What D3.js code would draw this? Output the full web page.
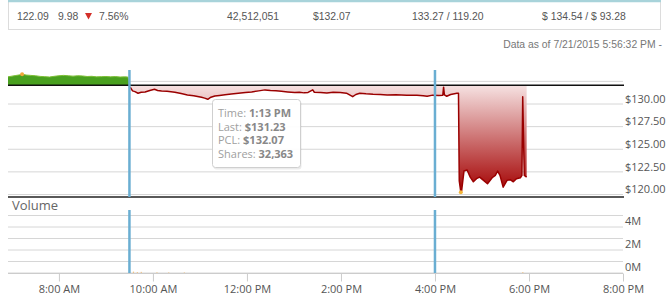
<!DOCTYPE html>
<html><head><meta charset="utf-8">
<script src="https://cdn.jsdelivr.net/npm/d3@7"></script>
<style>
html,body{margin:0;padding:0;background:#fff;}
svg{display:block;}
</style></head>
<body>
<svg id="c" width="670" height="297"></svg>
<script>
// ---------- data ----------
const quoteValues = ["122.09", "9.98", "7.56%", "42,512,051", "$132.07", "133.27 / 119.20", "$ 134.54 / $ 93.28"];
const asOfText = "Data as of 7/21/2015 5:56:32 PM -";
const prevClose = 132.07;

const preTimes = ["6:55","7:00","7:05","7:10","7:13","7:18","7:24","7:30","7:36","7:42","7:48","7:54","8:00","8:06","8:12","8:18","8:24","8:30","8:36","8:42","8:48","8:54","9:00","9:06","9:12","9:18","9:24","9:28","9:31"];
const prePrices = [133.00,133.08,133.15,133.22,133.30,133.20,133.16,133.12,133.05,133.02,132.98,133.06,133.12,133.16,133.12,133.08,133.12,133.10,133.04,133.06,133.00,133.02,133.04,133.00,133.03,132.98,133.00,132.98,132.07];

const dayTimes = ["9:31","9:34","9:37","9:41","9:45","9:50","9:56","10:02","10:06","10:11","10:18","10:28","10:36","10:44","10:52","11:02","11:06","11:10","11:14","11:19","11:25","11:32","11:40","11:49","11:58","12:06","12:15","12:23","12:30","12:37","12:44","12:52","13:01","13:07","13:13","13:18","13:24","13:26","13:34","13:42","13:50","13:59","14:07","14:15","14:19","14:24","14:32","14:41","14:50","14:59","15:10","15:24","15:37","15:45","15:50","15:57","16:05","16:10","16:11","16:12","16:15","16:20","16:28","16:30",
  "16:31","16:33","16:34","16:37","16:41","16:45","16:49","16:53","16:57","17:02","17:07","17:13","17:17","17:20","17:23","17:27","17:32","17:36","17:40","17:44","17:49","17:51","17:52","17:54","17:57"];
const dayPrices = [131.85,131.45,131.37,131.19,131.30,131.33,131.50,131.63,131.50,131.44,131.40,131.30,131.15,131.00,130.90,130.74,130.65,130.52,130.75,130.89,130.95,131.03,131.10,131.19,131.27,131.33,131.45,131.56,131.50,131.47,131.40,131.33,131.26,131.30,131.23,131.28,131.56,131.30,131.27,131.22,131.30,131.28,131.20,130.81,131.05,131.18,131.12,131.07,131.05,131.00,131.02,130.98,130.97,130.92,130.85,130.98,130.95,130.98,131.86,131.00,130.86,131.05,131.19,131.20,
  121.50,120.26,120.40,122.59,122.70,121.92,121.40,121.75,121.92,121.56,121.19,121.85,122.11,122.59,122.11,120.81,121.56,121.63,121.40,121.75,121.85,122.11,130.81,122.11,121.92];

const volTimes = ["9:35","9:40","9:45","10:05","10:20","10:40","17:52"];
const volValues = [0.12,0.08,0.10,0.06,0.05,0.05,0.08]; // millions

const highMarker = {time: "7:13", price: 133.30};
const lowMarker = {time: "16:33", price: 120.26};
const sessionLines = ["9:30", "16:00"];

const xTickTimes = ["8:00","10:00","12:00","14:00","16:00","18:00","20:00"];
const xTickLabels = ["8:00 AM","10:00 AM","12:00 PM","2:00 PM","4:00 PM","6:00 PM","8:00 PM"];
const priceTicks = [120, 122.5, 125, 127.5, 130];
const priceTickLabels = ["$120.00","$122.50","$125.00","$127.50","$130.00"];
const priceGrid = [120, 122.5, 125, 127.5, 130, 132.5];
const volTicks = [0, 2, 4];
const volTickLabels = ["0M","2M","4M"];
const volGrid = [0, 1, 2, 3, 4, 5];

const tooltipLabels = ["Time:", "Last:", "PCL:", "Shares:"];
const tooltipValues = ["1:13 PM", "$131.23", "$132.07", "32,363"];

// ---------- drawing ----------
const parse = d3.timeParse("%H:%M");
const svg = d3.select("#c");
const chartFont = "'Open Sans', sans-serif";
const tableFont = "'Liberation Sans', Arial, sans-serif";

// quote table
const tbl = svg.append("g");
tbl.append("rect").attr("x", 8.5).attr("y", -2).attr("width", 652).attr("height", 31.5)
  .attr("fill", "#fff").attr("stroke", "#dcdcdc");
tbl.append("line").attr("x1", 8).attr("x2", 661).attr("y1", 1).attr("y2", 1)
  .attr("stroke", "#a8d3da").attr("stroke-width", 2.5);
const qx = [17, 58, 99, 227, 313, 412, 542];
quoteValues.forEach((v, i) => {
  tbl.append("text").attr("x", qx[i]).attr("y", 20).text(v)
    .attr("font-family", tableFont).attr("font-size", 10.4).attr("fill", "#555");
});
tbl.append("path").attr("d", "M85,13 L92,13 L88.5,19.5 Z").attr("fill", "#d3302a");

svg.append("text").attr("x", 662).attr("y", 48).attr("text-anchor", "end").text(asOfText)
  .attr("font-family", tableFont).attr("font-size", 10.4).attr("fill", "#777");

// scales
const x = d3.scaleTime().domain([parse("6:55"), parse("20:00")]).range([8, 623]);
const y = d3.scaleLinear().domain([120, 130]).range([194.5, 104]);
const yv = d3.scaleLinear().domain([0, 5]).range([273, 215.5]);

// price gridlines
svg.append("g").selectAll("line").data(priceGrid).join("line")
  .attr("x1", 8).attr("x2", 623).attr("y1", d => y(d)).attr("y2", d => y(d))
  .attr("stroke", "#d6d6d6").attr("stroke-width", 1);

// price axis labels
const pAxis = svg.append("g").attr("transform", "translate(624,0)")
  .call(d3.axisRight(y).tickValues(priceTicks).tickSize(0).tickPadding(1)
    .tickFormat((d, i) => priceTickLabels[i]));
pAxis.select(".domain").remove();
pAxis.selectAll("text").attr("font-family", chartFont).attr("font-size", 11)
  .attr("fill", "#555").attr("dy", "-0.15em");

// gradient
const defs = svg.append("defs");
const grad = defs.append("linearGradient").attr("id", "redGrad")
  .attr("gradientUnits", "userSpaceOnUse").attr("x1", 0).attr("x2", 0)
  .attr("y1", y(prevClose)).attr("y2", y(120.2));
grad.append("stop").attr("offset", 0).attr("stop-color", "#f6e2e2");
grad.append("stop").attr("offset", 1).attr("stop-color", "#a30000");

const preData = preTimes.map((t, i) => ({t: parse(t), v: prePrices[i]}));
const dayData = dayTimes.map((t, i) => ({t: parse(t), v: dayPrices[i]}));

// green premarket area
svg.append("path").datum(preData)
  .attr("d", d3.area().x(d => x(d.t)).y0(y(prevClose)).y1(d => y(d.v)))
  .attr("fill", "#49a01f");
svg.append("path").datum(preData)
  .attr("d", d3.line().x(d => x(d.t)).y(d => y(d.v)))
  .attr("fill", "none").attr("stroke", "#7cbf34").attr("stroke-width", 1);

// red area + line
svg.append("path").datum(dayData)
  .attr("d", d3.area().x(d => x(d.t)).y0(y(prevClose)).y1(d => y(d.v)))
  .attr("fill", "url(#redGrad)");
svg.append("path").datum(dayData)
  .attr("d", d3.line().x(d => x(d.t)).y(d => y(d.v)))
  .attr("fill", "none").attr("stroke", "#9a0000").attr("stroke-width", 1.5)
  .attr("stroke-linejoin", "round");

// previous close line and pane separator
svg.append("line").attr("x1", 8).attr("x2", 624).attr("y1", y(prevClose)).attr("y2", y(prevClose))
  .attr("stroke", "#111").attr("stroke-width", 1.6);
svg.append("line").attr("x1", 8).attr("x2", 624).attr("y1", 197).attr("y2", 197)
  .attr("stroke", "#222").attr("stroke-width", 1.5);

// markers
svg.append("circle").attr("cx", x(parse(highMarker.time))).attr("cy", y(highMarker.price))
  .attr("r", 2).attr("fill", "#f0a83a");
svg.append("circle").attr("cx", x(parse(lowMarker.time))).attr("cy", y(lowMarker.price))
  .attr("r", 2).attr("fill", "#f3b53a");

// volume pane
svg.append("text").attr("x", 12).attr("y", 210).text("Volume")
  .attr("font-family", chartFont).attr("font-size", 13).attr("fill", "#666");
svg.append("g").selectAll("line").data(volGrid).join("line")
  .attr("x1", 8).attr("x2", 623).attr("y1", d => yv(d)).attr("y2", d => yv(d))
  .attr("stroke", "#d6d6d6").attr("stroke-width", 1);
const vAxis = svg.append("g").attr("transform", "translate(624,0)")
  .call(d3.axisRight(yv).tickValues(volTicks).tickSize(0).tickPadding(1)
    .tickFormat((d, i) => volTickLabels[i]));
vAxis.select(".domain").remove();
vAxis.selectAll("text").attr("font-family", chartFont).attr("font-size", 11)
  .attr("fill", "#555").attr("dy", "-0.2em");
svg.append("g").selectAll("rect").data(volTimes).join("rect")
  .attr("x", (d) => x(parse(d)) - 0.5).attr("width", 1.2)
  .attr("y", (d, i) => yv(volValues[i])).attr("height", (d, i) => yv(0) - yv(volValues[i]))
  .attr("fill", "#efc48a");

// session lines
sessionLines.forEach(t => {
  const xx = x(parse(t));
  svg.append("line").attr("x1", xx).attr("x2", xx).attr("y1", 70).attr("y2", 197)
    .attr("stroke", "#6aaed2").attr("stroke-width", 2.5);
  svg.append("line").attr("x1", xx).attr("x2", xx).attr("y1", 210).attr("y2", 273)
    .attr("stroke", "#6aaed2").attr("stroke-width", 2.5);
});

// x axis
const xAxis = svg.append("g").attr("transform", "translate(0,273.5)")
  .call(d3.axisBottom(x).tickValues(xTickTimes.map(parse)).tickSize(8).tickPadding(4)
    .tickFormat((d, i) => xTickLabels[i]));
xAxis.select(".domain").attr("stroke", "#ccc").attr("d", "M8,0H623");
xAxis.selectAll(".tick line").attr("stroke", "#ccc");
xAxis.selectAll("text").attr("font-family", chartFont).attr("font-size", 11).attr("fill", "#555");

// tooltip
const tt = svg.append("g").attr("transform", "translate(212,99)");
tt.append("rect").attr("x", 1.5).attr("y", 1.5).attr("width", 88).attr("height", 69).attr("rx", 3)
  .attr("fill", "#000").attr("opacity", 0.08);
tt.append("rect").attr("x", 0.5).attr("y", 0.5).attr("width", 88).attr("height", 68).attr("rx", 3)
  .attr("fill", "#fff").attr("fill-opacity", 0.96).attr("stroke", "#cfcfcf");
tooltipLabels.forEach((l, i) => {
  const t = tt.append("text").attr("x", 6).attr("y", 18 + i * 13.5)
    .attr("font-family", chartFont).attr("font-size", 11);
  t.append("tspan").text(l + " ").attr("fill", "#a0a0a0");
  t.append("tspan").text(tooltipValues[i]).attr("fill", "#888").attr("font-weight", "bold");
});
</script>
</body></html>
